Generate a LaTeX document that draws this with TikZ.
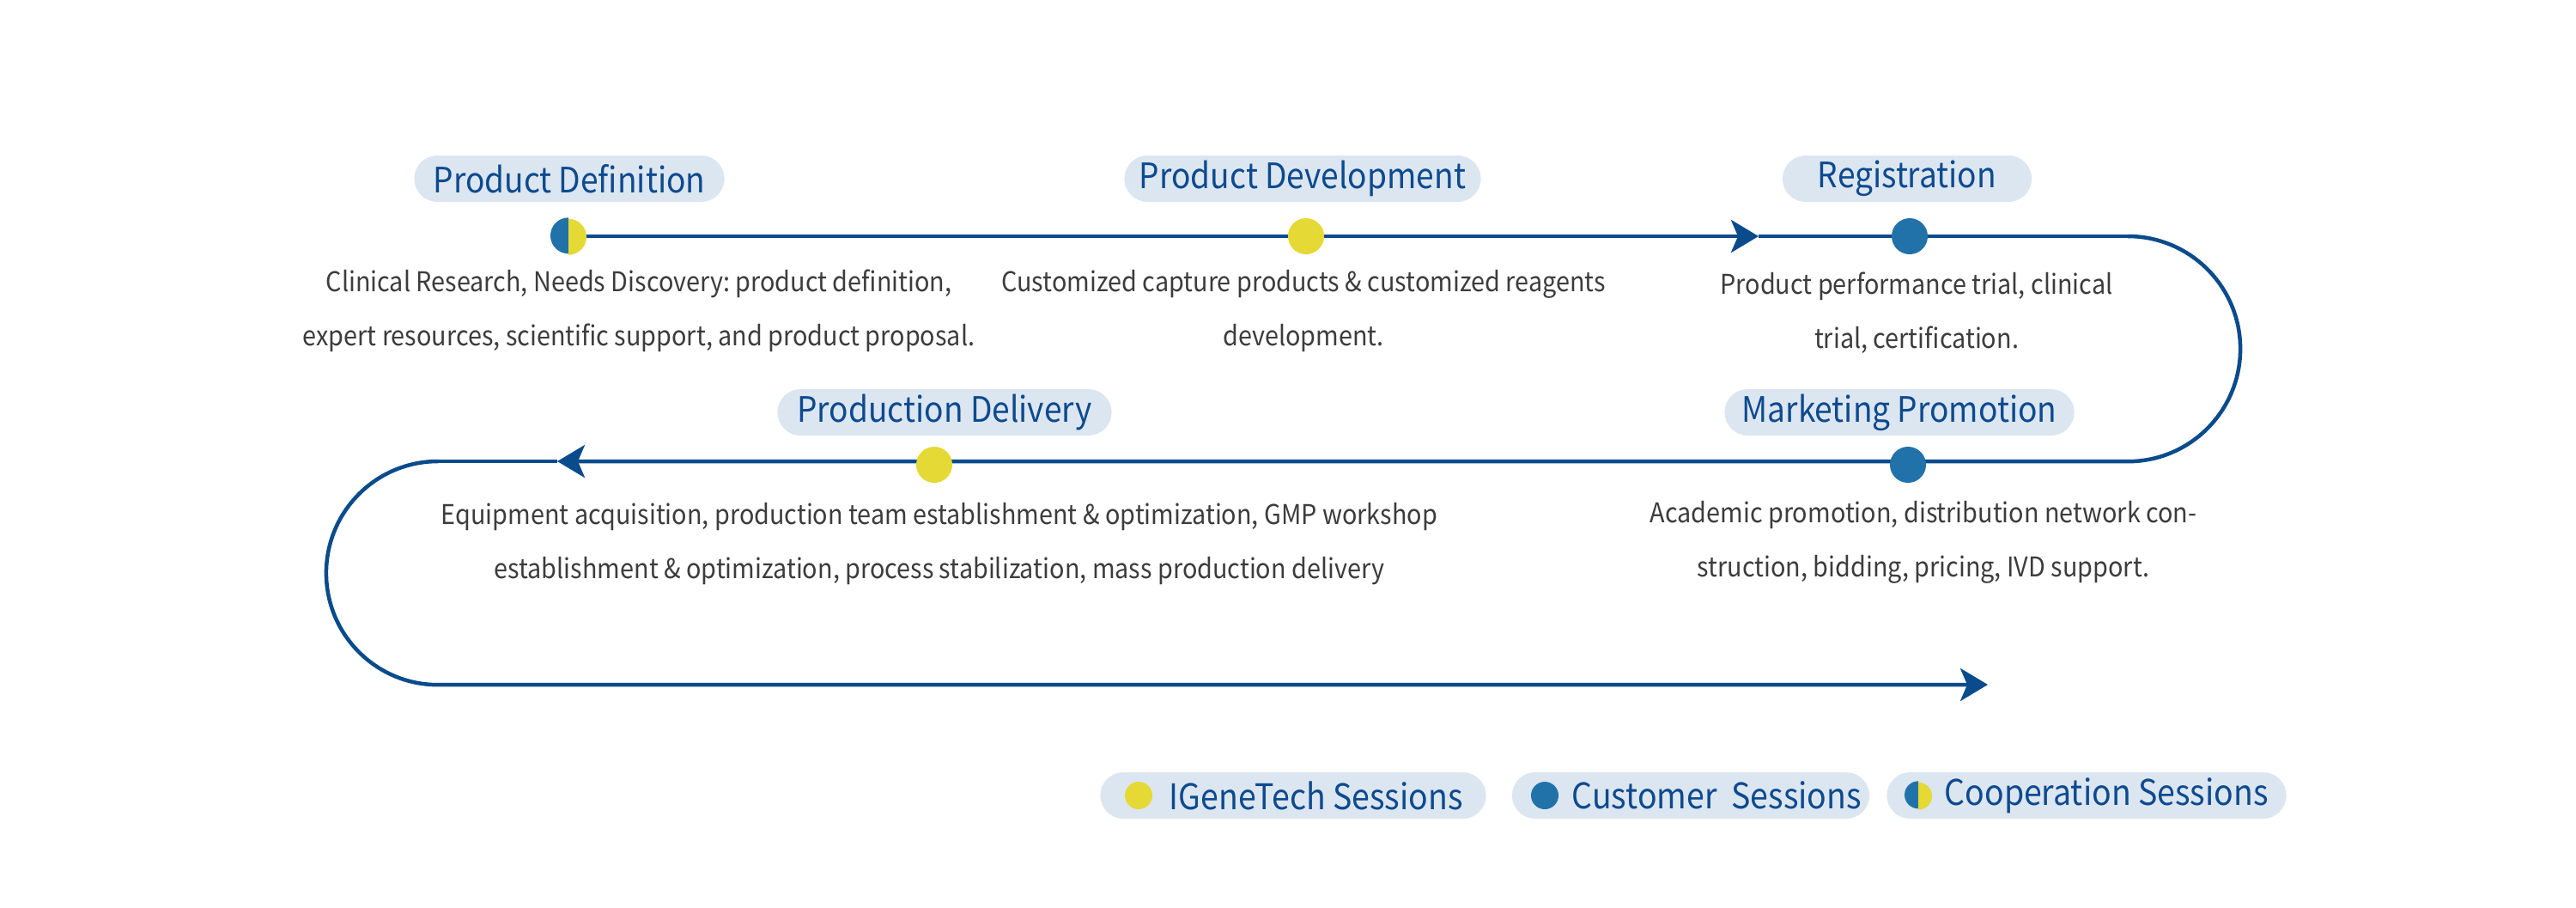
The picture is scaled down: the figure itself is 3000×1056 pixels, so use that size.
\documentclass[tikz,border=0pt]{standalone}
\usepackage{fontspec}
\setmainfont{Noto Sans CJK SC}[FakeStretch=0.91]
\usetikzlibrary{arrows.meta}
\definecolor{pillbg}{HTML}{DCE6F0}
\definecolor{titleblue}{HTML}{0D4A8F}
\definecolor{flowblue}{HTML}{0A4B8C}
\definecolor{dotblue}{HTML}{2272AA}
\definecolor{dotyellow}{HTML}{E5D935}
\definecolor{desctext}{HTML}{3C3C3C}
\pgfdeclarelayer{bg}
\pgfsetlayers{bg,main}
\frenchspacing
\begin{document}
\begin{tikzpicture}[x=0.01cm,y=-0.01cm,
  pill/.style={fill=pillbg, rounded corners=0.27cm, minimum height=0.54cm, inner sep=0pt,
    text=titleblue, font=\fontsize{11.6pt}{14pt}\selectfont},
  stagedot/.style={circle, minimum size=0.42cm, inner sep=0pt},
  legdot/.style={circle, minimum size=0.32cm, inner sep=0pt},
  desc/.style={align=center, text=desctext, inner sep=0pt, font=\fontsize{9pt}{17.9pt}\selectfont},
  flow/.style={draw=flowblue, line width=0.045cm},
  tip/.style={-{Stealth[length=0.32cm, width=0.38cm, inset=0.08cm]}},
  legtext/.style={anchor=west, inner sep=0pt, text=titleblue, font=\fontsize{11.7pt}{14pt}\selectfont}
]
\useasboundingbox (0,0) rectangle (3000,1056);

% titles
\node[pill, minimum width=3.61cm] (t1) at (663,208) {Product Definition};
\node[pill, minimum width=4.15cm] (t2) at (1517,208) {Product Development};
\node[pill, minimum width=2.90cm] (t3) at (2221,208) {Registration};
\node[pill, minimum width=4.07cm] (t4) at (2212,480) {Marketing Promotion};
\node[pill, minimum width=3.89cm] (t5) at (1100,480) {Production Delivery};

% dots
\node[stagedot] (d1) at (662,275) {};
\fill[dotblue] (d1.north) arc (90:270:0.21cm) -- cycle;
\fill[dotyellow] (d1.south) arc (-90:90:0.21cm) -- cycle;
\node[stagedot, fill=dotyellow] (d2) at (1521,275) {};
\node[stagedot, fill=dotblue] (d3) at (2224,275) {};
\node[stagedot, fill=dotblue] (d4) at (2222,541) {};
\node[stagedot, fill=dotyellow] (d5) at (1088,541) {};

% descriptions
\node[desc] (x1) at (744,362) {Clinical Research, Needs Discovery: product definition,\\expert resources, scientific support, and product proposal.};
\node[desc] (x2) at (1518,362) {Customized capture products \& customized reagents\\development.};
\node[desc] (x3) at (2232,364) {Product performance trial, clinical\\trial, certification.};
\node[desc] (x4) at (2240,631) {Academic promotion, distribution network con-\\struction, bidding, pricing, IVD support.};
\node[desc] (x5) at (1094,633) {Equipment acquisition, production team establishment \& optimization, GMP workshop\\establishment \& optimization, process stabilization, mass production delivery};

% flow path
\coordinate (a1) at (2048,275);
\coordinate (tr) at (2478,275);
\coordinate (a2) at (649,537);
\coordinate (bl) at (510,537);
\coordinate (a3) at (2315,797);
\begin{pgfonlayer}{bg}
\draw[flow, tip] (d1.center) -- (a1);
\draw[flow] (a1) -- (tr);
\draw[flow, tip] (tr) arc (90:-90:1.31cm) -- (a2);
\draw[flow] (a2) -- (bl);
\draw[flow, tip] (bl) arc (90:270:1.30cm) -- (a3);
\end{pgfonlayer}

% legend
\node[pill, minimum width=4.49cm] (l1) at (1506,926) {};
\node[pill, minimum width=4.16cm] (l2) at (1969,926) {};
\node[pill, minimum width=4.65cm] (l3) at (2430,926) {};
\node[legdot, fill=dotyellow] (ld1) at (1326,926) {};
\node[legdot, fill=dotblue] (ld2) at (1799,926) {};
\node[legdot] (ld3) at (2234,926) {};
\fill[dotblue] (ld3.north) arc (90:270:0.16cm) -- cycle;
\fill[dotyellow] (ld3.south) arc (-90:90:0.16cm) -- cycle;
\node[legtext] (lt1) at (1361,926) {IGeneTech Sessions};
\node[legtext] (lt2) at (1830,926) {Customer\ \ Sessions};
\node[legtext] (lt3) at (2264,926) {Cooperation Sessions};
\end{tikzpicture}
\end{document}
